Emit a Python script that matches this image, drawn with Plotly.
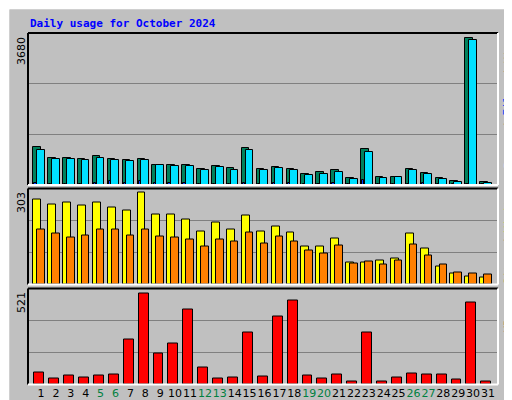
import plotly.graph_objects as go

days = list(range(1, 32))
weekend = [5, 6, 12, 13, 19, 20, 26, 27]
hits = [945, 669, 669, 644, 719, 644, 619, 644, 493, 493, 493, 393, 468, 418, 920, 393,
        443, 393, 268, 318, 368, 167, 895, 192, 192, 393, 293, 167, 92, 3680, 67]
pages = [870, 644, 644, 619, 669, 619, 594, 619, 493, 468, 468, 368, 443, 368, 870, 368,
         418, 368, 242, 268, 318, 142, 819, 167, 192, 368, 268, 142, 67, 3629, 42]
files = [40, 30, 20, 20, 40, 90, 60, 90, 40, 40, 50, 30, 20, 30, 50, 20,
         60, 50, 20, 20, 40, 20, 115, 20, 20, 30, 40, 30, 20, 30, 25]
visits = [280, 264, 270, 260, 270, 254, 244, 303, 231, 231, 214, 175, 204, 181, 227, 175,
          191, 171, 125, 125, 152, 72, 72, 79, 86, 168, 119, 59, 36, 26, 23]
sites = [181, 168, 155, 161, 181, 181, 161, 181, 158, 155, 148, 125, 148, 142, 171, 135,
         158, 142, 112, 102, 128, 69, 76, 66, 79, 132, 96, 66, 40, 36, 33]
kbytes = [70, 36, 53, 42, 53, 59, 259, 521, 179, 236, 429, 99, 36, 42, 298, 48,
          390, 481, 53, 36, 59, 19, 298, 19, 42, 65, 59, 59, 30, 469, 19]
tick_text = [f'<span style="color:#008040">{d}</span>' if d in weekend else str(d) for d in days]

W, H = 512, 400
BG = "#C0C0C0"
# panel pixel boxes (top, bottom), and y max for each
panels = [(25, 177, 3680 * 152 / 147.4), (180.5, 276.5, 303 * 96 / 92), (280.5, 376.5, 521 * 96 / 91.4)]
x0px, x1px = 20, 490
xr = [1 - 13 / 14.9, 31 + 10 / 14.9]

fig = go.Figure()

def bar(y, color, ax, offset, width):
    fig.add_trace(go.Bar(x=days, y=y, marker=dict(color=color, line=dict(color="black", width=1)),
                         offset=offset, width=width, xaxis=f"x{ax}", yaxis=f"y{ax}", showlegend=False))

bar(hits, "#00805C", "", -0.52, 0.5)
bar(pages, "#00E0FF", "", -0.27, 0.52)
bar(files, "#0040FF", "", -0.45, 0.15)
bar(visits, "#FFFF00", "2", -0.52, 0.53)
bar(sites, "#FF8000", "2", -0.25, 0.5)
bar(kbytes, "#FF0000", "3", -0.45, 0.67)

layout = dict(width=W, height=H, margin=dict(l=0, r=0, t=0, b=0), paper_bgcolor=BG,
              plot_bgcolor=BG, barmode="overlay", bargap=0)
for i, (top, bot, ymax) in enumerate(panels):
    sfx = "" if i == 0 else str(i + 1)
    layout[f"xaxis{sfx}"] = dict(domain=[x0px / W, x1px / W], range=xr, showgrid=False, zeroline=False,
                                 anchor=f"y{sfx}", showticklabels=(i == 2), ticks="",
                                 tickvals=days, ticktext=tick_text, tickangle=0, automargin=False,
                                 tickfont=dict(family="DejaVu Sans", size=11, color="black"))
    layout[f"yaxis{sfx}"] = dict(domain=[1 - bot / H, 1 - top / H], range=[0, ymax], anchor=f"x{sfx}",
                                 tickvals=[ymax / 3, ymax * 2 / 3], showticklabels=False, ticks="",
                                 gridcolor="#808080", gridwidth=1, zeroline=False)
fig.update_layout(**layout)

shapes = [
    dict(type="rect", xref="paper", yref="paper", x0=0, x1=1, y0=0, y1=1, line=dict(color="#808080", width=3)),
    dict(type="line", xref="paper", yref="paper", x0=0, x1=1, y0=1, y1=1, line=dict(color="white", width=3)),
    dict(type="line", xref="paper", yref="paper", x0=0, x1=0, y0=0, y1=1, line=dict(color="white", width=3)),
]
for top, bot, _ in panels:
    yt, yb = 1 - top / H, 1 - bot / H
    xl, xrp = x0px / W, x1px / W
    shapes += [
        dict(type="line", xref="paper", yref="paper", x0=xl, x1=xrp, y0=yt, y1=yt, line=dict(color="black", width=2)),
        dict(type="line", xref="paper", yref="paper", x0=xl, x1=xl, y0=yb, y1=yt, line=dict(color="black", width=2)),
        dict(type="line", xref="paper", yref="paper", x0=xl, x1=xrp, y0=yb, y1=yb, line=dict(color="white", width=2)),
        dict(type="line", xref="paper", yref="paper", x0=xrp, x1=xrp, y0=yb, y1=yt, line=dict(color="white", width=2)),
    ]
fig.update_layout(shapes=shapes)

mono = "DejaVu Sans Mono"
ann = [dict(text="<b>Daily usage for October 2024</b>", x=20 / W, y=1 - 7 / H, xanchor="left", yanchor="top",
            font=dict(family=mono, size=11, color="#0000FF"))]
for (top, bot, _), lbl in zip(panels, ["3680", "303", "521"]):
    ann.append(dict(text=lbl, textangle=-90, x=13 / W, y=1 - (top + 2) / H, xanchor="center", yanchor="top",
                    font=dict(family="DejaVu Sans", size=11, color="black")))

# right-hand labels, read bottom to top, one annotation per coloured piece
right = [
    [("Pages", "#00E0FF"), (" / ", "#000000"), ("Files", "#0040FF"), (" / ", "#000000"), ("Hits", "#00805C")],
    [("Sites", "#FF8000"), (" / ", "#000000"), ("Visits", "#FFFF00")],
    [("KBytes", "#FF0000")],
]
cw = 6.6
for (top, bot, _), pieces in zip(panels, right):
    L = sum(len(t) for t, _ in pieces)
    k = 0
    for txt, col in pieces:
        n = len(txt)
        ytop = top + 2 + (L - k - n) * cw
        if txt.strip() == "/":
            txt, ytop, n = "/", ytop + cw, 1
        ann.append(dict(text=txt, textangle=-90, x=500 / W, y=1 - ytop / H, xanchor="center", yanchor="top",
                        font=dict(family=mono, size=11, color=col)))
        k += len(txt) if txt != "/" else 3
for a in ann:
    a.update(xref="paper", yref="paper", showarrow=False)
fig.update_layout(annotations=ann)

fig.write_html("out.html")
